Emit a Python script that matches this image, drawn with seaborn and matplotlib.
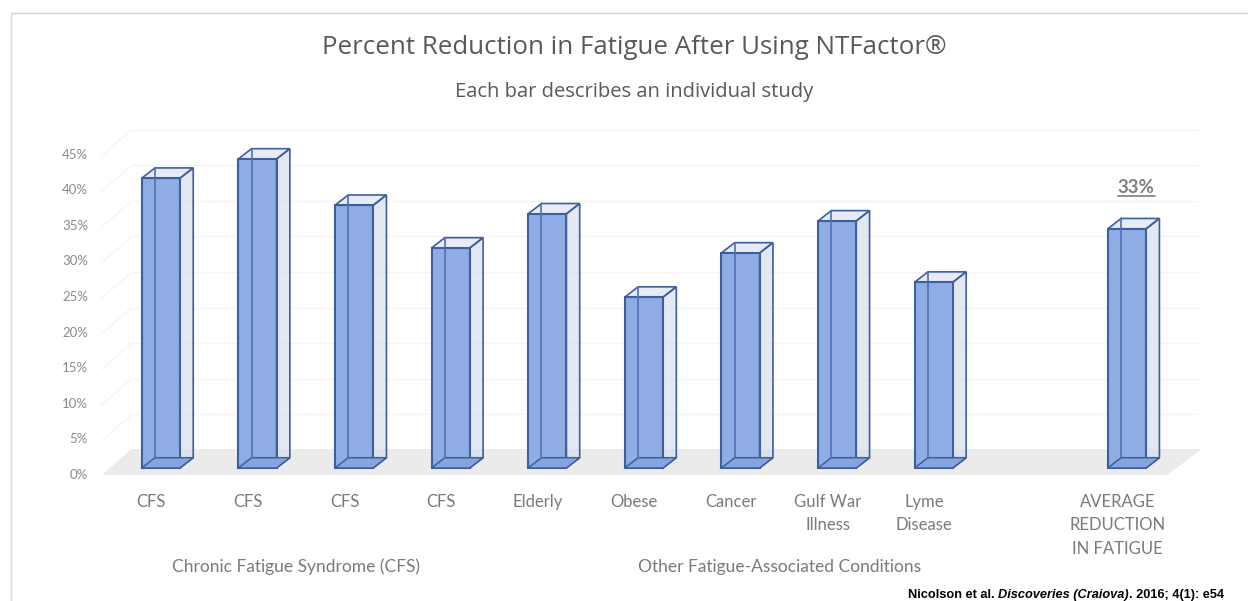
import pandas as pd
import seaborn as sns
import matplotlib.pyplot as plt
from matplotlib.patches import Polygon
from matplotlib.lines import Line2D
from matplotlib.transforms import ScaledTranslation

studies = ["s1", "s2", "s3", "s4", "s5", "s6", "s7", "s8", "s9", "avg"]
reductions = [40.7, 43.4, 36.9, 30.9, 35.7, 24.0, 30.2, 34.7, 26.1, 33.6]
slots = ["s1", "s2", "s3", "s4", "s5", "s6", "s7", "s8", "s9", "gap", "avg"]
slot_labels = ["CFS", "CFS", "CFS", "CFS", "Elderly", "Obese", "Cancer",
               "Gulf War\nIllness", "Lyme\nDisease", "",
               "AVERAGE\nREDUCTION\nIN FATIGUE"]
pct_ticks = list(range(0, 50, 5))

W, H = 1248, 601
PX_X = 96.62   # px per category
PX_Y = 7.12    # px per percent
DX = 13.3 / PX_X
DY = 10.3 / PX_Y

sns.set_theme(style="white")
plt.rcParams["font.family"] = ["Lato", "DejaVu Sans"]

fig = plt.figure(figsize=(W / 100, H / 100), dpi=100)
# axes run from px 102 to 1202 across and from px 120 to 480 down
ax = fig.add_axes([102 / W, 1 - 480 / H, 1100 / W, 360 / H])

df = pd.DataFrame({"study": studies, "reduction": reductions})
sns.barplot(data=df, x="study", y="reduction", order=slots, width=0.396,
            color="#8FADE4", saturation=1, edgecolor="#3E5F9E", linewidth=1.5,
            zorder=4, ax=ax)

ax.set_xlim((102 - 160.8) / PX_X, (1202 - 160.8) / PX_X)
ax.set_ylim((468 - 480) / PX_Y, (468 - 120) / PX_Y)
ax.set_xlabel("")
ax.set_ylabel("")
sns.despine(ax=ax, left=True, bottom=True)
ax.patch.set_alpha(0)

# floor and back wall, x in axes fraction, y in percent
wall = ax.get_yaxis_transform()
front = -8 / PX_Y
back = 18 / PX_Y
ax.add_patch(Polygon([(0, -7 / PX_Y), (0.027, 19 / PX_Y), (1, 19 / PX_Y), (0.968, -7 / PX_Y)],
                     closed=True, transform=wall, facecolor="#EBEBEB", edgecolor="none", zorder=1))
for v in pct_ticks[1:]:
    ax.plot([0.027, 0.996], [v + back, v + back], transform=wall, color="#F4F4F4", lw=1, zorder=1, clip_on=False)
    ax.plot([0, 0.027], [v + front, v + back], transform=wall, color="#F4F4F4", lw=1, zorder=1, clip_on=False)

# 3d sides built from the bars seaborn drew
edge = "#3E5F9E"
for bar in list(ax.patches):
    if bar.get_zorder() != 4 or not bar.get_height() > 0:
        continue
    x0, w, h = bar.get_x(), bar.get_width(), bar.get_height()
    x1 = x0 + w
    side = [(x1, 0), (x1 + DX, DY), (x1 + DX, h + DY), (x1, h)]
    top = [(x0, h), (x0 + DX, h + DY), (x1 + DX, h + DY), (x1, h)]
    bottom = [(x0, 0), (x0 + DX, DY), (x1 + DX, DY), (x1, 0)]
    ax.add_patch(Polygon(side, closed=True, facecolor="#D5DCEC", alpha=0.65, edgecolor="none", zorder=2))
    ax.add_patch(Polygon(top, closed=True, facecolor="#E6EBF6", edgecolor="none", zorder=2))
    ax.add_patch(Polygon(side, closed=True, fill=False, edgecolor=edge, lw=1.2, zorder=5))
    ax.add_patch(Polygon(top, closed=True, fill=False, edgecolor=edge, lw=1.2, zorder=5))
    ax.add_patch(Polygon(bottom, closed=True, facecolor="#86A5DF", edgecolor=edge, lw=1.1, zorder=5))
    ax.plot([x0 + DX, x0 + DX], [DY, h + DY], color="#4F70B4", lw=1.2, zorder=5)

ax.set_yticks(pct_ticks)
ax.set_yticklabels([f"{v}%" for v in pct_ticks], color="#8A8A8A", fontsize=9.5)
ax.set_xticks(range(len(slots)))
ax.set_xticklabels(slot_labels, color="#7A7A7A", fontsize=12, linespacing=1.58, va="top")
ax.tick_params(axis="both", length=0)
ax.tick_params(axis="x", pad=10)
ax.tick_params(axis="y", pad=10)
# labels sit left of their bars and below the value, as in the 3d layout
for lab in ax.get_xticklabels():
    lab.set_transform(lab.get_transform() + ScaledTranslation(-9.5 / 100, 0, fig.dpi_scale_trans))
for lab in ax.get_yticklabels():
    lab.set_transform(lab.get_transform() + ScaledTranslation(0, -6 / 100, fig.dpi_scale_trans))


def px_text(x, y, s, **kw):
    return fig.text(x / W, 1 - y / H, s, **kw)


px_text(634.5, 47, "Percent Reduction in Fatigue After Using NTFactor®", ha="center", va="center",
        fontsize=18.6, color="#595959", family="Open Sans")
px_text(634.5, 92, "Each bar describes an individual study", ha="center", va="center",
        fontsize=14.5, color="#595959", family="Open Sans")
px_text(295.5, 567, "Chronic Fatigue Syndrome (CFS)", ha="center", va="center", fontsize=12.5, color="#7A7A7A")
px_text(779.5, 567, "Other Fatigue-Associated Conditions", ha="center", va="center", fontsize=12.5, color="#7A7A7A")
px_text(1136, 188, "33%", ha="center", va="center", fontsize=13.5, fontweight="bold", color="#7F7F7F")
fig.add_artist(Line2D([1118 / W, 1155 / W], [1 - 196 / H, 1 - 196 / H], color="#7F7F7F", lw=1.2))

# thin frame of the pasted slide, top and left only
fig.add_artist(Line2D([11 / W, 1], [1 - 13 / H, 1 - 13 / H], color="#D4D4D4", lw=1))
fig.add_artist(Line2D([11 / W, 11 / W], [0, 1 - 13 / H], color="#D9D9D9", lw=1))

# citation, three pieces laid end to end
cite = [("Nicolson et al. ", "normal"), ("Discoveries (Craiova)", "italic"), (". 2016; 4(1): e54", "normal")]
renderer = fig.canvas.get_renderer()
x = 908
for piece, style in cite:
    t = px_text(x, 598, piece, ha="left", va="baseline", fontsize=9.15, fontweight="bold", style=style,
                family="Liberation Sans", color="black")
    x += t.get_window_extent(renderer).width

fig.savefig("out.png", dpi=100)
